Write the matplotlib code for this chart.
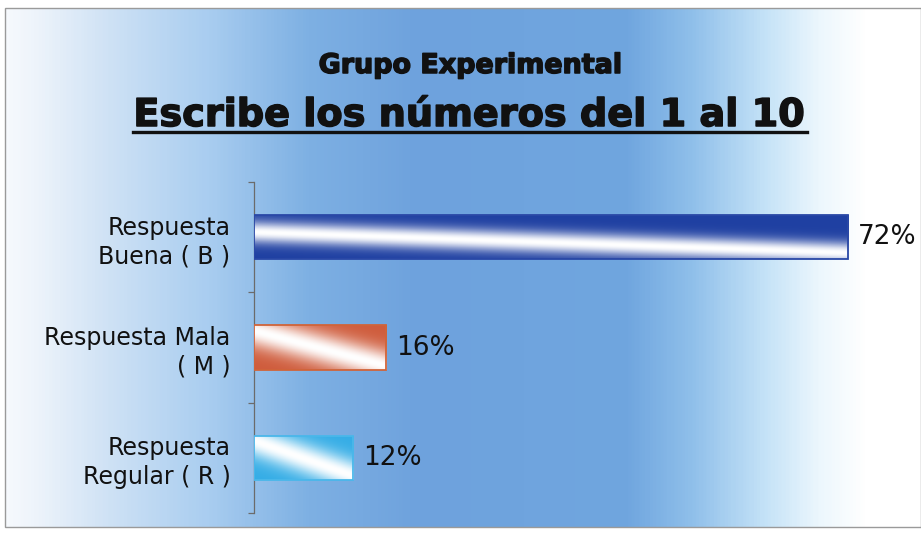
import numpy as np
import matplotlib
matplotlib.use("Agg")
import matplotlib.pyplot as plt
import matplotlib.patheffects as pe
from matplotlib.colors import LinearSegmentedColormap, to_rgb
from matplotlib.lines import Line2D
from matplotlib.patches import Rectangle

W, H = 921, 534

categories = ["Respuesta\nBuena ( B )", "Respuesta Mala\n( M )", "Respuesta\nRegular ( R )"]
values = [72, 16, 12]
bar_colors = ["#1f40a2", "#cf5c3c", "#35ade6"]
edge_colors = ["#2a48a6", "#d0643a", "#4ab7ea"]
value_labels = ["72%", "16%", "12%"]
subtitle = "Grupo Experimental"
title = "Escribe los números del 1 al 10"

plt.rcParams['font.family'] = ['DejaVu Sans']

fig = plt.figure(figsize=(W / 100, H / 100), dpi=100)
fig.patch.set_facecolor("white")

# background: horizontal gradient inside a thin gray frame
fx0, fy0, fx1, fy1 = 5, 8, 921, 527
bg = fig.add_axes([fx0 / W, 1 - fy1 / H, (fx1 - fx0) / W, (fy1 - fy0) / H], zorder=0)
bg_cmap = LinearSegmentedColormap.from_list("bg", [
    (0.00, "#f6f9fd"), (0.03, "#eef4fb"), (0.11, "#cfe2f5"), (0.22, "#a9cdf0"),
    (0.27, "#95c0ea"), (0.33, "#7eb0e3"), (0.45, "#6ea2dd"), (0.68, "#70a6df"),
    (0.75, "#8fbfea"), (0.83, "#c4e2f7"), (0.89, "#ecf7fd"), (0.94, "#ffffff"),
    (1.00, "#ffffff")])
bg.imshow(np.linspace(0, 1, 600)[None, :], cmap=bg_cmap, aspect="auto",
          extent=(0, 1, 0, 1))
bg.set_xlim(0, 1)
bg.set_ylim(0, 1)
bg.axis("off")
fig.patches.append(Rectangle((fx0 / W, 1 - fy1 / H), (fx1 - fx0) / W, (fy1 - fy0) / H,
                             transform=fig.transFigure, fill=False,
                             edgecolor="#9a9a9a", linewidth=1.0, zorder=5))

# main axes
ax_left, ax_top, ax_bot = 254, 182, 513
ax = fig.add_axes([ax_left / W, 1 - ax_bot / H, 660 / W, (ax_bot - ax_top) / H], zorder=2)
ax.patch.set_alpha(0)
ax.set_xlim(0, 80)
ax.set_ylim(2.5, -0.5)

ypos = np.arange(len(values))
bar_h = 0.40
# (band centre at left, drift to the right, band width)
shift = [(0.40, 0.47, 0.24), (0.12, 0.80, 0.36), (0.12, 0.80, 0.36)]
bars = ax.barh(ypos, values, height=bar_h, facecolor="none",
               edgecolor=edge_colors, linewidth=1.3, zorder=4)
for i, (b, v) in enumerate(zip(bars, values)):
    u = np.linspace(0, 1, 300)[None, :]
    vv = np.linspace(0, 1, 60)[:, None]
    c0, c1, s = shift[i]
    t = np.exp(-((vv - (c0 + c1 * u)) / s) ** 2)
    base = np.array(to_rgb(bar_colors[i]))
    img = t[..., None] * np.ones(3) + (1 - t[..., None]) * base
    im = ax.imshow(img, origin="lower", aspect="auto", zorder=3,
                   extent=(0, v, ypos[i] - bar_h / 2, ypos[i] + bar_h / 2))
    im.set_clip_path(b)
    ax.text(v + 10 / 8.25, ypos[i], value_labels[i], ha="left", va="center",
            fontsize=19, color="#111111")

ax.set_xlim(0, 80)
ax.set_ylim(2.5, -0.5)
for sp in ["top", "right", "bottom"]:
    ax.spines[sp].set_visible(False)
ax.spines["left"].set_color("#6b6b6b")
ax.spines["left"].set_linewidth(0.9)
ax.set_xticks([])
ax.set_yticks(ypos)
ax.set_yticklabels(categories, fontsize=17, color="#111111", linespacing=1.25,
                   ha="right")
ax.set_yticks([-0.5, 0.5, 1.5, 2.5], minor=True)
ax.tick_params(axis="y", which="major", length=0, pad=17)
ax.tick_params(axis="y", which="minor", length=4.5, width=0.9, color="#6b6b6b",
               direction="out")

# titles, fitted to the widths seen in the picture
renderer = fig.canvas.get_renderer()
heavy = [pe.withStroke(linewidth=1.1, foreground="#111111")]


def fitted_text(s, cx, base_y, width_px, size):
    t = fig.text(cx / W, 1 - base_y / H, s, ha="center", va="baseline",
                 fontsize=size, fontweight="bold", color="#111111", zorder=6,
                 path_effects=heavy)
    w = t.get_window_extent(renderer).width
    t.set_fontsize(size * (width_px - 2) / w)
    return t


fitted_text(subtitle, 470, 73, 306, 16)
t2 = fitted_text(title, 470, 126, 674, 26)
bb = t2.get_window_extent(renderer)
fig.lines.append(Line2D([bb.x0 / W, bb.x1 / W], [1 - 131.5 / H, 1 - 131.5 / H],
                        transform=fig.transFigure, color="#111111", linewidth=2.4,
                        zorder=6))

fig.savefig("out.png", dpi=100)
